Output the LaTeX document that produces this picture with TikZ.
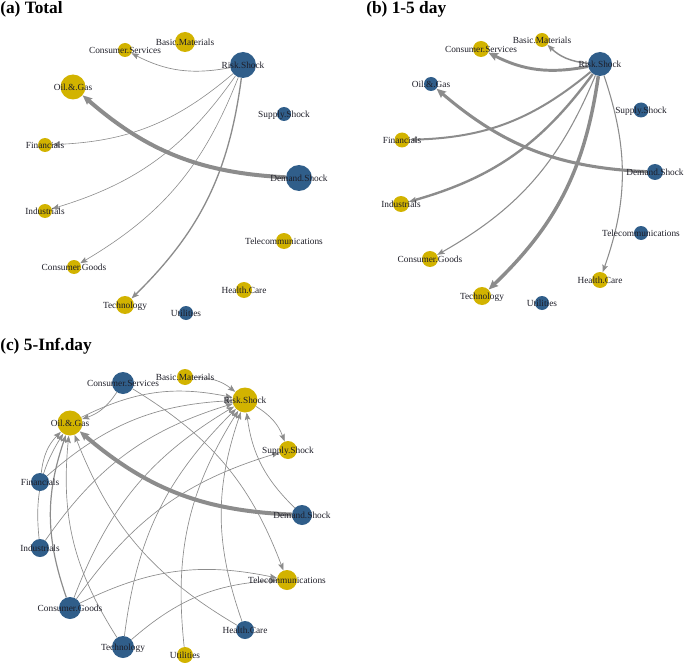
\documentclass[tikz,border=0pt]{standalone}
\usepackage{fontspec}
\setmainfont{Liberation Serif}
\usetikzlibrary{arrows.meta}
\definecolor{nodeyellow}{RGB}{210,179,0}
\definecolor{nodeblue}{RGB}{48,94,138}
\definecolor{edgecol}{RGB}{140,140,140}
\definecolor{labelcol}{RGB}{30,30,40}
\pgfdeclarelayer{edgelayer}
\pgfsetlayers{edgelayer,main}
\tikzset{
  vtx/.style={circle, inner sep=0pt, draw=none},
  yel/.style={vtx, fill=nodeyellow},
  blu/.style={vtx, fill=nodeblue},
  lbl/.style={font=\fontsize{7}{8}\selectfont, text=labelcol, inner sep=0pt},
  ttl/.style={font=\fontsize{13}{15}\selectfont\bfseries, inner sep=0pt, anchor=base west},
  ed/.style={draw=edgecol, line width=0.5pt, bend left=19, -{Stealth[length=5.5pt,width=4.2pt,inset=1pt]}},
  edthick/.style={ed, -{Stealth[length=7pt,width=6pt,inset=1pt]}},
}
\newcommand\vx[5]{\node[#4, minimum size={#3*1.5pt}] (#1) at (#2) {}; \node[lbl, yshift=-0.6pt] (#1-l) at (#1) {#5};}
\begin{document}
\begin{tikzpicture}[x=0.75pt,y=-0.75pt]
\useasboundingbox (0,0) rectangle (685,663);
% ---------------- titles
\node[ttl] (ta) at (0,14) {(a) Total};
\node[ttl] (tb) at (366,14) {(b) 1-5 day};
\node[ttl] (tc) at (0,350) {(c) 5-Inf.day};
% ---------------- panel (a)
\vx{a-bm}{185,42}{10}{yel}{Basic.Materials}
\vx{a-cs}{125,50}{7}{yel}{Consumer.Services}
\vx{a-rs}{243,65}{13}{blu}{Risk.Shock}
\vx{a-og}{73,87}{12.5}{yel}{Oil.\&.Gas}
\vx{a-ss}{284,114}{7}{blu}{Supply.Shock}
\vx{a-fin}{45,145}{7}{yel}{Financials}
\vx{a-ds}{299,178}{13}{blu}{Demand.Shock}
\vx{a-ind}{45,211}{7}{yel}{Industrials}
\vx{a-tel}{284,241}{8}{yel}{Telecommunications}
\vx{a-cg}{74,267}{7}{yel}{Consumer.Goods}
\vx{a-hc}{244,290}{8}{yel}{Health.Care}
\vx{a-tech}{125,305}{9}{yel}{Technology}
\vx{a-util}{186,313}{7}{blu}{Utilities}
% ---------------- panel (b)
\vx{b-bm}{542,40}{7}{yel}{Basic.Materials}
\vx{b-cs}{481,49}{8}{yel}{Consumer.Services}
\vx{b-rs}{600,64}{12}{blu}{Risk.Shock}
\vx{b-og}{431,84}{7}{blu}{Oil.\&.Gas}
\vx{b-ss}{641,110}{7.5}{blu}{Supply.Shock}
\vx{b-fin}{402,140}{7.5}{yel}{Financials}
\vx{b-ds}{655,172}{8}{blu}{Demand.Shock}
\vx{b-ind}{401,204}{8}{yel}{Industrials}
\vx{b-tel}{641,233}{7}{blu}{Telecommunications}
\vx{b-cg}{430,259}{8}{yel}{Consumer.Goods}
\vx{b-hc}{600,280}{8}{yel}{Health.Care}
\vx{b-tech}{482,296}{9}{yel}{Technology}
\vx{b-util}{542,303}{7}{blu}{Utilities}
% ---------------- panel (c)
\vx{c-cs}{123,383}{11}{blu}{Consumer.Services}
\vx{c-bm}{185,377}{8}{yel}{Basic.Materials}
\vx{c-rs}{245,400}{12.5}{yel}{Risk.Shock}
\vx{c-og}{70,423}{12.5}{yel}{Oil.\&.Gas}
\vx{c-ss}{288,450}{9}{yel}{Supply.Shock}
\vx{c-fin}{40,482}{9}{blu}{Financials}
\vx{c-ds}{302,515}{10}{blu}{Demand.Shock}
\vx{c-ind}{40,548}{9}{blu}{Industrials}
\vx{c-tel}{287,580}{10}{yel}{Telecommunications}
\vx{c-cg}{70,608}{11}{blu}{Consumer.Goods}
\vx{c-hc}{245,630}{9}{blu}{Health.Care}
\vx{c-tech}{123,647}{11}{blu}{Technology}
\vx{c-util}{185,655}{8}{yel}{Utilities}
% ---------------- edges
\begin{pgfonlayer}{edgelayer}
% (a)
\draw[ed] (a-rs) to (a-cs);
\draw[edthick, line width=3pt] (a-ds) to (a-og);
\draw[ed, line width=0.45pt] (a-rs) to (a-fin);
\draw[ed, line width=0.45pt] (a-rs) to (a-ind);
\draw[ed, line width=0.45pt] (a-rs) to (a-cg);
\draw[ed, line width=1pt] (a-rs) to (a-tech);
% (b)
\draw[ed, line width=1.1pt] (b-rs) to (b-bm);
\draw[edthick, line width=2.2pt] (b-rs) to (b-cs);
\draw[edthick, line width=2.3pt] (b-ds) to (b-og);
\draw[ed, line width=1.5pt] (b-rs) to (b-fin);
\draw[ed, line width=1.8pt] (b-rs) to (b-ind);
\draw[ed, line width=0.8pt] (b-rs) to (b-cg);
\draw[edthick, line width=2.6pt] (b-rs) to (b-tech);
\draw[ed, line width=0.8pt] (b-rs) to (b-hc);
% (c)
\draw[edthick, line width=3pt] (c-ds) to (c-og);
\draw[ed] (c-cs) to (c-og);
\draw[ed] (c-fin) to (c-og);
\draw[ed] (c-ind) to (c-og);
\draw[ed, line width=0.9pt] (c-cg) to (c-og);
\draw[ed] (c-tech) to (c-og);
\draw[ed] (c-hc) to (c-og);
\draw[ed] (c-bm) to (c-rs);
\draw[ed] (c-og) to (c-rs);
\draw[ed] (c-fin) to (c-rs);
\draw[ed] (c-ind) to (c-rs);
\draw[ed] (c-cg) to (c-rs);
\draw[ed] (c-tech) to (c-rs);
\draw[ed] (c-util) to (c-rs);
\draw[ed] (c-hc) to (c-rs);
\draw[ed] (c-ds) to (c-rs);
\draw[ed] (c-rs) to (c-ss);
\draw[ed] (c-cg) to (c-ss);
\draw[ed] (c-cs) to (c-tel);
\draw[ed] (c-cg) to (c-tel);
\draw[ed] (c-tech) to (c-tel);
\end{pgfonlayer}
\end{tikzpicture}
\end{document}
